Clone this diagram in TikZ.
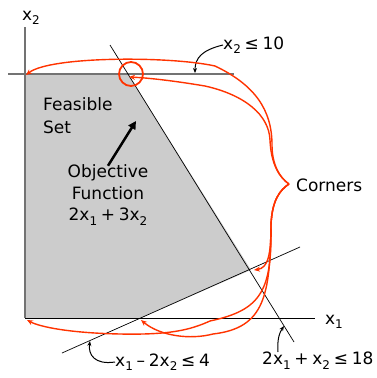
\documentclass[tikz,border=0pt]{standalone}
\usepackage{fontspec}
\setmainfont{DejaVu Sans}
\usetikzlibrary{arrows.meta}
\newcommand\lsub[1]{\raisebox{-0.45ex}{\fontsize{12}{12}\selectfont #1}}
\newcommand\nsp{\hspace{0.22em}}
\definecolor{penred}{RGB}{255,51,0}
\begin{document}
\begin{tikzpicture}[x=1pt,y=-1pt,
  lbl/.style={font=\fontsize{17}{21.5}\selectfont, inner sep=0pt},
  redc/.style={draw=penred, line width=1.4pt},
  redarr/.style={redc, -{Stealth[length=6pt,width=5pt]}},
  blkarr/.style={black, line width=1pt, -{Stealth[length=5pt,width=4pt]}},
  cline/.style={black, line width=0.7pt},
  axisg/.style={black!55, line width=1.2pt},
]
\useasboundingbox (0,0) rectangle (377,378);
% corners of the feasible set
\coordinate (O) at (25,318);
\coordinate (A) at (25,74);
\coordinate (B) at (128,74);
\coordinate (C) at (251,270);
\coordinate (D) at (140,318);
\fill[gray!40] (O) -- (A) -- (B) -- (C) -- (D) -- cycle;
% axes and constraint lines
\coordinate (x2top) at (25,27);
\coordinate (x1end) at (315,318);
\coordinate (h1) at (8,74);
\coordinate (h2) at (234,74);
\coordinate (l1a) at (110,45);
\coordinate (l1b) at (294,342);
\coordinate (l2a) at (62,353);
\coordinate (l2b) at (300,247);
\draw[axisg] (x2top) -- (O);
\draw[axisg] (h1) -- (h2);
\draw[black, line width=1pt] (O) -- (x1end);
\draw[cline] (l1a) -- (l1b);
\draw[cline] (l2a) -- (l2b);
% labels
\node[lbl] (x2lab) at (31,18) {x\lsub{2}};
\node[lbl] (x1lab) at (334,322) {x\lsub{1}};
\node[lbl, anchor=west] (feas) at (43,104) {Feasible};
\node[lbl, anchor=west] (set) at (43,127) {Set};
\node[lbl, align=center] (obj) at (108,195) {Objective\\Function\\2x\lsub{1}\nsp+\nsp3x\lsub{2}};
\node[lbl, anchor=west] (c10) at (223,45) {x\lsub{2}\nsp≤\nsp10};
\node[lbl, anchor=west] (corn) at (296,185) {Corners};
\node[lbl, anchor=west] (c4) at (115,362) {x\lsub{1}\nsp–\nsp2x\lsub{2}\nsp≤\nsp4};
\node[lbl, anchor=north west] (c18) at (262,352) {2x\lsub{1}\nsp+\nsp x\lsub{2}\nsp≤\nsp18};
% objective arrow
\coordinate (objtip) at (136,121);
\draw[black, line width=2.5pt, -{Triangle[length=8pt,width=8pt]}] ([yshift=-1pt]obj.north) -- (objtip);
% constraint label arrows
\coordinate (t10) at (195,73);
\coordinate (t4) at (90,341);
\coordinate (t18) at (284,326);
\draw[blkarr] (c10.west) .. controls (202,50) and (195,58) .. (t10);
\draw[blkarr] (c4.west) .. controls (95,365) and (88,355) .. (t4);
\draw[blkarr] ([xshift=16pt]c18.north west) .. controls (277,338) and (280,332) .. (t18);
% red circle
\draw[redc, line width=1.8pt] (131,74) circle[radius=12pt];
% brace to corners
\coordinate (T) at (289,184);
\draw[redarr] (T) .. controls (280,178) and (272,165) .. (272,145)
  .. controls (272,110) and (255,85) .. (215,66)
  .. controls (170,56) and (50,56) .. ([xshift=1pt,yshift=-1pt]A);
\draw[redarr] (T) .. controls (280,178) and (271,165) .. (270,140)
  .. controls (269,115) and (245,95) .. (205,86)
  .. controls (175,81) and (150,78) .. (129,77);
\draw[redarr] (T) .. controls (280,190) and (272,200) .. (271,225)
  .. controls (271,255) and (268,268) .. (254,270);
\draw[redarr] (T) .. controls (280,190) and (272,200) .. (271,225)
  .. controls (272,290) and (262,310) .. (210,321)
  .. controls (190,330) and (170,335) .. (120,334)
  .. controls (70,333) and (40,327) .. (27,320);
\draw[redarr] (T) .. controls (280,190) and (272,200) .. (271,225)
  .. controls (270,295) and (265,328) .. (213,334)
  .. controls (190,340) and (160,336) .. (141,320);
\end{tikzpicture}
\end{document}
